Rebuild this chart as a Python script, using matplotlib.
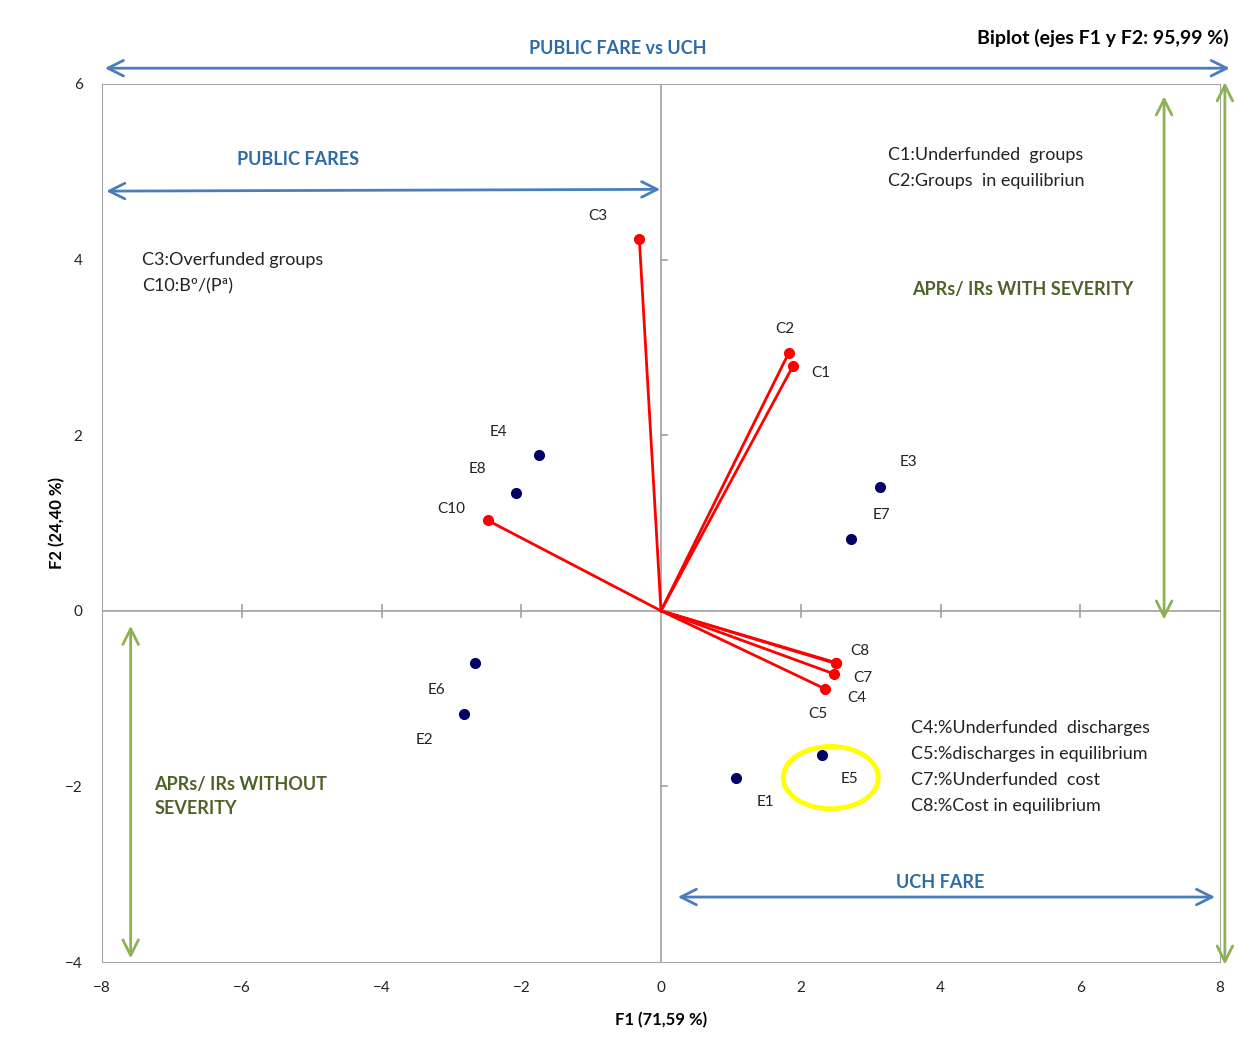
import matplotlib
matplotlib.use("Agg")
import matplotlib.pyplot as plt
from matplotlib.patches import Ellipse

plt.rcParams['font.family'] = ['Lato', 'DejaVu Sans']

# === datos ===
var_names = ['C1', 'C2', 'C3', 'C4', 'C5', 'C7', 'C8', 'C10']
var_f1 = [1.89, 1.83, -0.31, 2.35, 2.50, 2.48, 2.50, -2.48]
var_f2 = [2.79, 2.94, 4.23, -0.89, -0.60, -0.72, -0.59, 1.03]
var_lab = [(0.39, -0.08), (-0.06, 0.27), (-0.59, 0.27), (0.45, -0.10), (-0.26, -0.57), (0.41, -0.05),
           (0.34, 0.13), (-0.52, 0.13)]

obs_names = ['E1', 'E2', 'E3', 'E4', 'E5', 'E6', 'E7', 'E8']
obs_f1 = [1.07, -2.82, 3.13, -1.75, 2.30, -2.66, 2.72, -2.08]
obs_f2 = [-1.90, -1.17, 1.41, 1.77, -1.64, -0.60, 0.82, 1.34]
obs_lab = [(0.42, -0.28), (-0.56, -0.30), (0.41, 0.28), (-0.57, 0.27), (0.40, -0.28), (-0.56, -0.30),
           (0.43, 0.27), (-0.55, 0.27)]

BLUE = '#4a7ebb'
GREEN = '#8db255'
OLIVE = '#4f6228'
TXT_BLUE = '#2e6aa8'

fig = plt.figure(figsize=(12.39, 10.6), dpi=100)
ax = fig.add_axes([102 / 1239, 98 / 1060, 1118 / 1239, 878 / 1060])
ax.set_xlim(-8, 8)
ax.set_ylim(-4, 6)
for s in ax.spines.values():
    s.set_color('#a6a6a6')
ax.set_xticks(range(-8, 9, 2))
ax.set_yticks(range(-4, 7, 2))
ax.tick_params(length=0, labelsize=11, colors='#222222')
ax.tick_params(axis='x', pad=14)
ax.tick_params(axis='y', pad=14)

# ejes centrales con marcas
ax.axhline(0, color='#a0a0a0', lw=1.2, zorder=1)
ax.axvline(0, color='#a0a0a0', lw=1.2, zorder=1)
for t in [-6, -4, -2, 2, 4, 6]:
    ax.plot([t, t], [-0.07, 0.07], color='#a0a0a0', lw=1.2, zorder=1)
for t in [-2, 2, 4]:
    ax.plot([0, 0.09], [t, t], color='#a0a0a0', lw=1.2, zorder=1)

# variables (vectores)
for n, x, y, (dx, dy) in zip(var_names, var_f1, var_f2, var_lab):
    ax.plot([0, x], [0, y], color='#ff0000', lw=2, zorder=3)
    ax.plot(x, y, 'o', color='#ff0000', ms=7, zorder=4)
    ax.text(x + dx, y + dy, n, fontsize=11, ha='center', va='center', color='#222222')

# observaciones
ax.plot(obs_f1, obs_f2, 'o', color='#000066', ms=7, zorder=4, ls='none')
for n, x, y, (dx, dy) in zip(obs_names, obs_f1, obs_f2, obs_lab):
    ax.text(x + dx, y + dy, n, fontsize=11, ha='center', va='center', color='#222222')

ax.add_patch(Ellipse((2.43, -1.90), 1.36, 0.71, fill=False, edgecolor='#ffff00', lw=3.5, zorder=5))

# flechas
def arrow(p0, p1, color):
    ax.annotate('', xy=p1, xytext=p0, annotation_clip=False,
                arrowprops=dict(arrowstyle='<->', color=color, lw=2, mutation_scale=28,
                                shrinkA=0, shrinkB=0))

arrow((-7.96, 6.18), (8.14, 6.18), BLUE)
arrow((-7.94, 4.78), (-0.01, 4.80), BLUE)
arrow((0.24, -3.26), (7.93, -3.26), BLUE)
arrow((7.2, 5.86), (7.2, -0.10), GREEN)
arrow((-7.59, -0.17), (-7.59, -3.96), GREEN)
arrow((8.07, 6.02), (8.07, -4.03), GREEN)

ax.text(-0.62, 6.40, 'PUBLIC FARE vs UCH', fontsize=13, fontweight='bold', color=TXT_BLUE,
        ha='center', va='center')
ax.text(-5.2, 5.14, 'PUBLIC FARES', fontsize=13, fontweight='bold', color=TXT_BLUE, ha='center', va='center')
ax.text(4.0, -3.09, 'UCH FARE', fontsize=13, fontweight='bold', color=TXT_BLUE, ha='center', va='center')
ax.text(5.18, 3.66, 'APRs/ IRs WITH SEVERITY', fontsize=13, fontweight='bold', color=OLIVE,
        ha='center', va='center')
ax.text(-7.25, -2.11, 'APRs/ IRs WITHOUT\nSEVERITY', fontsize=13, fontweight='bold', color=OLIVE,
        ha='left', va='center', linespacing=1.5)

ax.text(3.25, 5.19, 'C1:Underfunded  groups', fontsize=13, va='center', color='#222222')
ax.text(3.25, 4.90, 'C2:Groups  in equilibriun', fontsize=13, va='center', color='#222222')
ax.text(-7.43, 3.99, 'C3:Overfunded groups', fontsize=13, va='center', color='#222222')
ax.text(-7.43, 3.69, 'C10:Bº/(Pª)', fontsize=13, va='center', color='#222222')
for i, s in enumerate(['C4:%Underfunded  discharges', 'C5:%discharges in equilibrium',
                       'C7:%Underfunded  cost', 'C8:%Cost in equilibrium']):
    ax.text(3.58, -1.34 - i * 0.294, s, fontsize=13, va='center', color='#222222')

fig.text(1229 / 1239, 1 - 38 / 1060, 'Biplot (ejes F1 y F2: 95,99 %)', fontsize=14, fontweight='bold',
         ha='right', va='center')
ax.set_xlabel('F1 (71,59 %)', fontsize=12, fontweight='bold', labelpad=12)
ax.set_ylabel('F2 (24,40 %)', fontsize=12, fontweight='bold', labelpad=0)

fig.savefig('out.png', dpi=100, facecolor='white')
